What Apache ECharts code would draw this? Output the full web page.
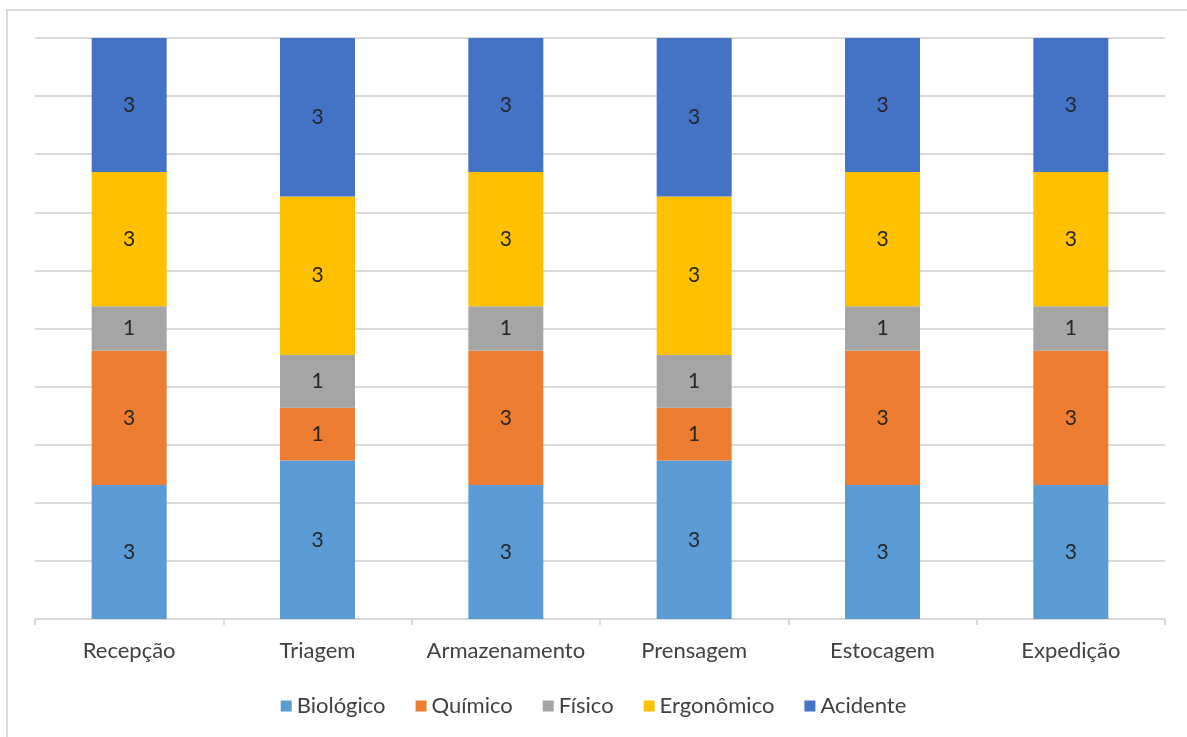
<!DOCTYPE html>
<html>
<head>
<meta charset="utf-8">
<script src="https://cdn.jsdelivr.net/npm/echarts@6/dist/echarts.min.js"></script>
<style>
  html, body { margin: 0; padding: 0; background: #fff; }
  #frame { position: absolute; left: 6px; top: 9px; width: 1200px; height: 800px;
           border: 2px solid #d9d9d9; box-sizing: border-box; }
  #chart { position: absolute; left: 0; top: 0; width: 1187px; height: 737px; }
</style>
</head>
<body>
<div id="frame"></div>
<div id="chart"></div>
<script>
// Risk counts per sector of the facility
const categories = ['Recepção', 'Triagem', 'Armazenamento', 'Prensagem', 'Estocagem', 'Expedição'];
const biologico  = [3, 3, 3, 3, 3, 3];
const quimico    = [3, 1, 3, 1, 3, 3];
const fisico     = [1, 1, 1, 1, 1, 1];
const ergonomico = [3, 3, 3, 3, 3, 3];
const acidente   = [3, 3, 3, 3, 3, 3];

const seriesDefs = [
  { name: 'Biológico',  values: biologico,  color: '#5B9BD5' },
  { name: 'Químico',    values: quimico,    color: '#ED7D31' },
  { name: 'Físico',     values: fisico,     color: '#A5A5A5' },
  { name: 'Ergonômico', values: ergonomico, color: '#FFC000' },
  { name: 'Acidente',   values: acidente,   color: '#4472C4' }
];

// column totals for 100% stacking
const totals = categories.map((_, i) =>
  seriesDefs.reduce((s, d) => s + d.values[i], 0));

const font = 'Lato, "Open Sans", sans-serif';

const chart = echarts.init(document.getElementById('chart'));
chart.setOption({
  animation: false,
  textStyle: { fontFamily: font },
  grid: { left: 35, right: 22, top: 38, bottom: 118 },
  legend: {
    top: 690,
    left: 'center',
    itemWidth: 11,
    itemHeight: 11,
    itemGap: 30,
    icon: 'rect',
    textStyle: { fontSize: 22, color: '#404040', fontFamily: font },
    data: seriesDefs.map(d => d.name)
  },
  xAxis: {
    type: 'category',
    data: categories,
    axisLine: { lineStyle: { color: '#d9d9d9', width: 2 } },
    axisTick: { show: true, length: 6, lineStyle: { color: '#d9d9d9', width: 2 } },
    axisLabel: { interval: 0, fontSize: 22, color: '#404040', margin: 21, fontFamily: font }
  },
  yAxis: {
    type: 'value',
    min: 0,
    max: 100,
    interval: 10,
    axisLabel: { show: false },
    axisLine: { show: false },
    axisTick: { show: false },
    splitLine: { lineStyle: { color: '#d9d9d9', width: 2 } }
  },
  series: seriesDefs.map(d => ({
    name: d.name,
    type: 'bar',
    stack: 'total',
    barWidth: 75,
    itemStyle: { color: d.color },
    label: {
      show: true,
      position: 'inside',
      fontSize: 21,
      color: '#262626',
      fontFamily: font,
      formatter: p => String(d.values[p.dataIndex])
    },
    data: d.values.map((v, i) => v / totals[i] * 100)
  }))
});
</script>
</body>
</html>
